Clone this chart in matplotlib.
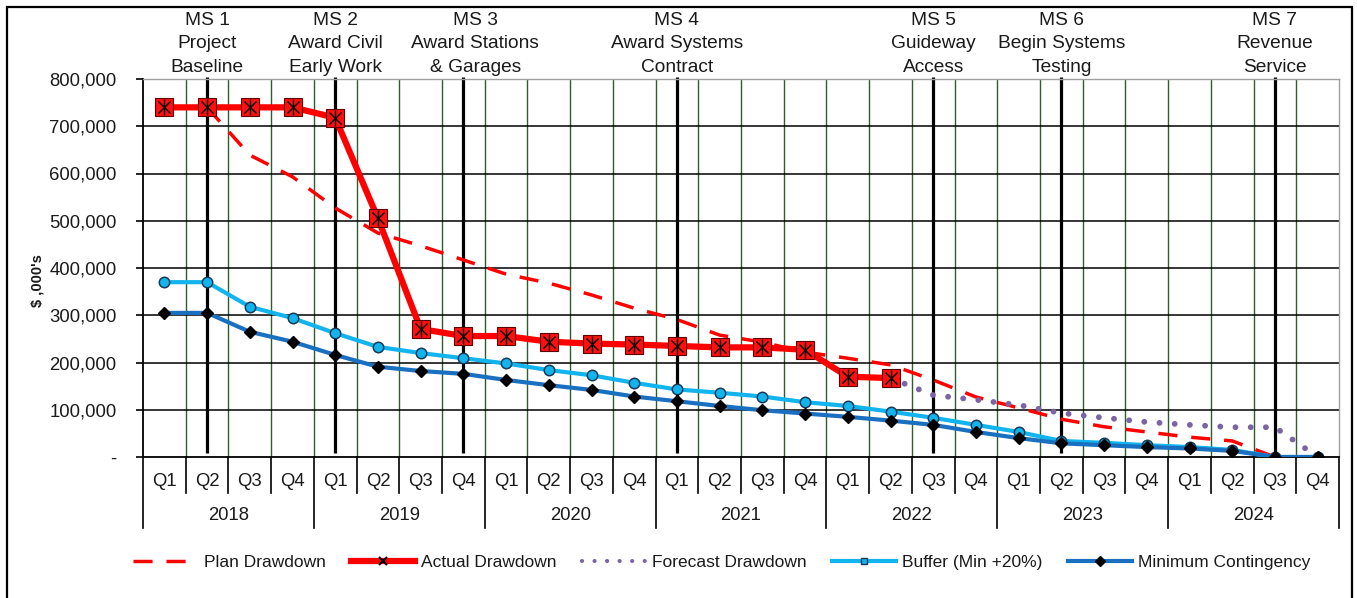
import numpy as np
import matplotlib
matplotlib.use("Agg")
import matplotlib.pyplot as plt
from matplotlib.lines import Line2D
from matplotlib.patches import Rectangle
import matplotlib.transforms as mtransforms

plt.rcParams['font.family'] = ['Liberation Sans', 'DejaVu Sans']

# ---------------- data ----------------
years = ["2018", "2019", "2020", "2021", "2022", "2023", "2024"]
quarters = ["Q1", "Q2", "Q3", "Q4"]
nan = np.nan

plan_drawdown = [nan, 740000, 639000, 593000, 527000, 474000, 447000, 417000,
                 387000, 368000, 343000, 315000, 291000, 258000, 243000, 222000,
                 209000, 195000, 163000, 127000, 104000, 80000, 64000, 53000,
                 42000, 34000, 0, nan]
actual_drawdown = [740000, 740000, 740000, 740000, 718000, 505000, 271000, 256000,
                   256000, 244000, 240000, 238000, 235000, 232000, 232000, 227000,
                   170000, 167000] + [nan] * 10
forecast_drawdown = [nan] * 17 + [167000, 131000, 121000, 110000, 93000, 83000,
                                  74000, 68000, 63000, 63000, 0]
buffer_min20 = [370000, 370000, 318000, 294000, 262000, 233000, 220000, 209000,
                198000, 184000, 173000, 157000, 143000, 136000, 128000, 116000,
                108000, 96000, 83000, 68000, 53000, 34000, 30000, 25000,
                21000, 15000, 0, 0]
min_contingency = [305000, 305000, 265000, 244000, 216000, 191000, 182000, 176000,
                   163000, 152000, 142000, 128000, 118000, 108000, 99000, 92000,
                   85000, 77000, 68000, 53000, 40000, 29000, 25000, 21000,
                   18000, 13000, 0, 0]

milestone_labels = ["MS 1\nProject\nBaseline", "MS 2\nAward Civil\nEarly Work",
                    "MS 3\nAward Stations\n& Garages", "MS 4\nAward Systems\nContract",
                    "MS 5\nGuideway\nAccess", "MS 6\nBegin Systems\nTesting",
                    "MS 7\nRevenue\nService"]
milestone_quarter = [1, 4, 7, 12, 18, 21, 26]   # index of quarter (0 = 2018 Q1)

y_ticks = [0, 100000, 200000, 300000, 400000, 500000, 600000, 700000, 800000]

# ---------------- figure ----------------
W, H = 1357, 598
fig = plt.figure(figsize=(W / 100, H / 100), dpi=100)
ax = fig.add_axes([143 / W, 1 - 457 / H, (1339 - 143) / W, (457 - 79) / H])

n = len(years) * len(quarters)
x = np.arange(n) + 0.5
FS_LEG = 12.5
FS_AX = 13.3
FS_MS = 13.8
TXT = '#1a1a1a'

ax.set_xlim(0, n)
ax.set_ylim(0, 800000)

# gridlines
for b in range(1, n):
    ax.axvline(b, color='#2e5e2e', lw=1.0, zorder=1)
for yt in y_ticks[1:-1]:
    ax.axhline(yt, color='black', lw=1.1, zorder=1)

# milestone lines
for q in milestone_quarter:
    ax.plot([q + 0.5, q + 0.5], [8000, 805000], color='black', lw=2.3,
            zorder=2, clip_on=False, solid_capstyle='butt')

# milestone labels
lab_off = [0, 0, 0.28, 0, 0, 0, 0]
trans_top = mtransforms.blended_transform_factory(ax.transData, fig.transFigure)
for q, lab, off in zip(milestone_quarter, milestone_labels, lab_off):
    ax.text(q + 0.5 + off, 1 - 44 / H, lab, transform=trans_top, ha='center',
            va='center', fontsize=FS_MS, color=TXT, linespacing=1.48)

# series
ax.plot(x, plan_drawdown, color='#ff0000', lw=2.5, dashes=(5.5, 4.0), zorder=4)
ax.plot(x, forecast_drawdown, color='#7b64a4', lw=4.2, linestyle=(0, (0.01, 2.6)),
        dash_capstyle='round', zorder=5)
ax.plot(x, buffer_min20, color='#12b4ee', lw=3.0, marker='o', ms=7.5,
        mfc='#12b4ee', mec='#173a57', mew=1.1, zorder=6)
ax.plot(x, min_contingency, color='#1a70c0', lw=3.0, marker='D', ms=6.5,
        mfc='black', mec='black', zorder=7)
ax.plot(x, actual_drawdown, color='#ff0000', lw=4.5, marker='s', ms=12.5,
        mfc='#ff1010', mec='#600000', mew=0.8, zorder=8)
ax.plot(x, actual_drawdown, lw=0, marker='x', ms=9, mec='black', mew=1.0, zorder=9)
ax.plot(x, actual_drawdown, lw=0, marker='|', ms=12, mec='black', mew=1.0, zorder=9)

# axes styling
ax.set_yticks(y_ticks)
ax.set_yticklabels(['-' if v == 0 else f'{v:,}' for v in y_ticks])
ax.tick_params(axis='y', direction='out', length=5, width=1.2, pad=14,
               labelsize=FS_AX, labelcolor=TXT)
ax.set_xticks([])
for s in ['top', 'right']:
    ax.spines[s].set_color('#a0a0a0')
    ax.spines[s].set_linewidth(1.0)
ax.spines['left'].set_linewidth(1.3)
ax.spines['bottom'].set_linewidth(1.3)

ax.set_ylabel("$ ,000's", fontsize=10.5, fontweight='bold', color=TXT)
ax.yaxis.set_label_coords((44 - 143) / (1339 - 143), (457 - 281) / 378)

# two-level category axis
tx = ax.get_xaxis_transform()
ph = 378.0
for i in range(n):
    ax.text(i + 0.5, -(481 - 457) / ph, quarters[i % 4], transform=tx,
            ha='center', va='center', fontsize=FS_AX, color=TXT)
for b in range(n + 1):
    low = -(528 - 457) / ph if b % 4 == 0 else -(493 - 457) / ph
    ax.plot([b, b], [0, low], transform=tx, color='black', lw=1.2, clip_on=False)
for k, yr in enumerate(years):
    ax.text(4 * k + 2, -(515 - 457) / ph, yr, transform=tx, ha='center',
            va='center', fontsize=FS_AX, color=TXT)

# legend
handles = [
    Line2D([], [], color='#ff0000', lw=2.5, dashes=(5.5, 4.0)),
    Line2D([], [], color='#ff0000', lw=4.5, marker='x', ms=6, mec='black', mew=1.5),
    Line2D([], [], color='#7b64a4', lw=3.0, linestyle=(0, (0.01, 3.0)),
           dash_capstyle='round'),
    Line2D([], [], color='#12b4ee', lw=3.0, marker='s', ms=4.5, mfc='#12b4ee',
           mec='#173a57', mew=1.0),
    Line2D([], [], color='#1a70c0', lw=3.0, marker='D', ms=5, mfc='black', mec='black'),
]
labels = ["Plan Drawdown", "Actual Drawdown", "Forecast Drawdown",
          "Buffer (Min +20%)", "Minimum Contingency"]
fig.legend(handles, labels, loc='center', bbox_to_anchor=(722 / W, 1 - 562 / H),
           ncol=5, frameon=False, handlelength=3.7, handletextpad=0.35,
           columnspacing=1.45, fontsize=FS_LEG, labelcolor=TXT)

# outer chart border
fig.patches.append(Rectangle((7 / W, -0.1), (1352 - 7) / W, 1.1 - 7 / H,
                             transform=fig.transFigure, fill=False,
                             edgecolor='black', lw=1.6, zorder=0))

fig.savefig('out.png', dpi=100)
